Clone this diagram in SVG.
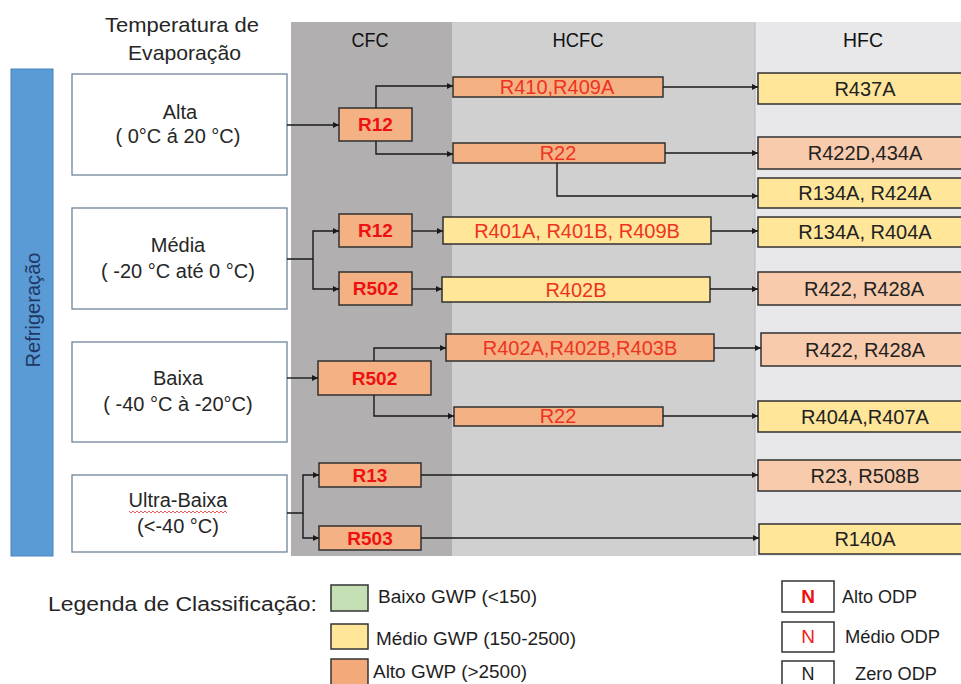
<svg xmlns="http://www.w3.org/2000/svg" width="961" height="684" viewBox="0 0 961 684">
<style>
text{font-family:"Liberation Sans",Arial,sans-serif;}
.col-cfc{fill:#b1afaf;}
.col-hcfc{fill:#d1d0d1;}
.col-hfc{fill:#e8e8ea;}
.hdr{font-size:21px;fill:#111111;text-anchor:middle;}
.cat{fill:#ffffff;stroke:#6f8499;stroke-width:1.3;}
.cat-t{font-size:20px;fill:#262626;text-anchor:middle;}
.cfc{fill:#f4b183;stroke:#303030;stroke-width:1.5;}
.cfc-t{font-size:19px;font-weight:bold;fill:#ee1111;text-anchor:middle;}
.ho{fill:#f4b183;stroke:#303030;stroke-width:1.5;}
.hy{fill:#ffe699;stroke:#303030;stroke-width:1.5;}
.hcfc-t{font-size:20px;fill:#ee3322;text-anchor:middle;}
.fo{fill:#f8cbad;stroke:#303030;stroke-width:1.5;}
.fy{fill:#ffe699;stroke:#303030;stroke-width:1.5;}
.hfc-t{font-size:20px;fill:#222222;text-anchor:middle;}
.conn path{fill:none;stroke:#1a1a1a;stroke-width:1.4;}
.leg{font-size:18px;fill:#1e1e1e;}
.sq{stroke:#333333;stroke-width:1.5;}
.odp{fill:#ffffff;stroke:#333333;stroke-width:1.5;}
</style>
<defs>
<marker id="arr" viewBox="0 0 10 10" refX="10" refY="5" markerWidth="6" markerHeight="6" orient="auto" markerUnits="userSpaceOnUse">
<path d="M0,0 L10,5 L0,10 z" fill="#1a1a1a"/>
</marker>
</defs>
<rect width="961" height="684" fill="#ffffff"/>

<!-- columns -->
<g id="columns">
<rect class="col-cfc" x="291" y="22" width="161" height="534"/>
<rect class="col-hcfc" x="452" y="22" width="303" height="534"/>
<rect class="col-hfc" x="755" y="22" width="206" height="534"/>
<line x1="755" y1="22" x2="755" y2="556" stroke="#b8b8bc" stroke-width="1"/>
<text class="hdr" x="370" y="47" textLength="37" lengthAdjust="spacingAndGlyphs">CFC</text>
<text class="hdr" x="578" y="47" textLength="51" lengthAdjust="spacingAndGlyphs">HCFC</text>
<text class="hdr" x="863" y="47" textLength="40" lengthAdjust="spacingAndGlyphs">HFC</text>
</g>

<g id="temp-header">
<text x="105" y="32" font-size="21" fill="#262626" textLength="154" lengthAdjust="spacingAndGlyphs">Temperatura de</text>
<text x="128" y="60" font-size="21" fill="#262626" textLength="113" lengthAdjust="spacingAndGlyphs">Evaporação</text>
</g>

<g id="refrigeracao">
<rect x="11" y="69" width="42" height="487" fill="#5b9bd5" stroke="#4a86c0" stroke-width="1"/>
<text transform="translate(40,310) rotate(-90)" font-size="20" fill="#1f3864" text-anchor="middle" textLength="115" lengthAdjust="spacingAndGlyphs">Refrigeração</text>
</g>

<!-- category nodes -->
<g id="alta">
<rect class="cat" x="72" y="74" width="215" height="101"/>
<text class="cat-t" x="180" y="119">Alta</text>
<text class="cat-t" x="178" y="143">( 0°C á 20 °C)</text>
</g>
<g id="media">
<rect class="cat" x="72" y="208" width="215" height="101"/>
<text class="cat-t" x="178" y="252">Média</text>
<text class="cat-t" x="178" y="278">( -20 °C até 0 °C)</text>
</g>
<g id="baixa">
<rect class="cat" x="72" y="342" width="215" height="100"/>
<text class="cat-t" x="178" y="385">Baixa</text>
<text class="cat-t" x="178" y="411">( -40 °C à -20°C)</text>
</g>
<g id="ultra-baixa">
<rect class="cat" x="72" y="475" width="215" height="77"/>
<text class="cat-t" x="178" y="507">Ultra-Baixa</text>
<path d="M129,511 l2,2 l2,-2 l2,2 l2,-2 l2,2 l2,-2 l2,2 l2,-2 l2,2 l2,-2 l2,2 l2,-2 l2,2 l2,-2 l2,2 l2,-2 l2,2 l2,-2 l2,2 l2,-2 l2,2 l2,-2 l2,2 l2,-2 l2,2 l2,-2 l2,2 l2,-2 l2,2 l2,-2 l2,2 l2,-2 l2,2 l2,-2 l2,2 l2,-2 l2,2 l2,-2 l2,2 l2,-2 l2,2 l2,-2 l2,2 l2,-2 l2,2 l2,-2 l2,2 l2,-2 l2,2" fill="none" stroke="#e03030" stroke-width="0.8"/>
<text class="cat-t" x="178" y="533">(&lt;-40 °C)</text>
</g>

<!-- CFC nodes -->
<g id="cfc-r12-alta"><rect class="cfc" x="339" y="108" width="73" height="33"/><text class="cfc-t" x="375.5" y="131">R12</text></g>
<g id="cfc-r12-media"><rect class="cfc" x="339" y="214" width="73" height="33"/><text class="cfc-t" x="375.5" y="237">R12</text></g>
<g id="cfc-r502-media"><rect class="cfc" x="339" y="272" width="73" height="33"/><text class="cfc-t" x="375.5" y="295">R502</text></g>
<g id="cfc-r502-baixa"><rect class="cfc" x="318" y="361" width="113" height="34"/><text class="cfc-t" x="374.5" y="385">R502</text></g>
<g id="cfc-r13"><rect class="cfc" x="319" y="463" width="102" height="24"/><text class="cfc-t" x="370" y="482">R13</text></g>
<g id="cfc-r503"><rect class="cfc" x="319" y="526" width="102" height="24"/><text class="cfc-t" x="370" y="545">R503</text></g>

<!-- HCFC nodes -->
<g id="hcfc-r410"><rect class="ho" x="453" y="77" width="210" height="20"/><text class="hcfc-t" x="557" y="94">R410,R409A</text></g>
<g id="hcfc-r22-alta"><rect class="ho" x="453" y="143" width="212" height="20"/><text class="hcfc-t" x="558" y="160">R22</text></g>
<g id="hcfc-r401"><rect class="hy" x="443" y="217" width="268" height="27"/><text class="hcfc-t" x="577" y="238">R401A, R401B, R409B</text></g>
<g id="hcfc-r402b"><rect class="hy" x="442" y="277" width="268" height="25"/><text class="hcfc-t" x="576" y="297">R402B</text></g>
<g id="hcfc-r402a"><rect class="ho" x="446" y="334" width="268" height="27"/><text class="hcfc-t" x="580" y="355">R402A,R402B,R403B</text></g>
<g id="hcfc-r22-baixa"><rect class="ho" x="454" y="407" width="209" height="19"/><text class="hcfc-t" x="558" y="423">R22</text></g>

<!-- HFC nodes -->
<g id="hfc-r437a"><rect class="fy" x="758" y="73" width="215" height="31"/><text class="hfc-t" x="865" y="96">R437A</text></g>
<g id="hfc-r422d"><rect class="fo" x="758" y="137" width="215" height="32"/><text class="hfc-t" x="865" y="160">R422D,434A</text></g>
<g id="hfc-r134a-r424a"><rect class="fy" x="758" y="178" width="215" height="30"/><text class="hfc-t" x="865" y="200">R134A, R424A</text></g>
<g id="hfc-r134a-r404a"><rect class="fy" x="758" y="217" width="215" height="30"/><text class="hfc-t" x="865" y="239">R134A, R404A</text></g>
<g id="hfc-r422-1"><rect class="fo" x="758" y="272" width="215" height="33"/><text class="hfc-t" x="864" y="296">R422, R428A</text></g>
<g id="hfc-r422-2"><rect class="fo" x="761" y="333" width="215" height="33"/><text class="hfc-t" x="865" y="357">R422, R428A</text></g>
<g id="hfc-r404a-r407a"><rect class="fy" x="758" y="401" width="215" height="31"/><text class="hfc-t" x="865" y="424">R404A,R407A</text></g>
<g id="hfc-r23"><rect class="fo" x="758" y="460" width="215" height="31"/><text class="hfc-t" x="865" y="483">R23, R508B</text></g>
<g id="hfc-r140a"><rect class="fy" x="759" y="524" width="215" height="30"/><text class="hfc-t" x="865" y="546">R140A</text></g>

<!-- connectors -->
<g class="conn" id="connectors">
<path d="M287,125 H339" marker-end="url(#arr)"/>
<path d="M376,108 V86 H453" marker-end="url(#arr)"/>
<path d="M376,141 V154 H453" marker-end="url(#arr)"/>
<path d="M663,87 H758" marker-end="url(#arr)"/>
<path d="M665,153 H758" marker-end="url(#arr)"/>
<path d="M557,163 V196 H758" marker-end="url(#arr)"/>
<path d="M287,259 H313 V231 H339" marker-end="url(#arr)"/>
<path d="M313,259 V289 H339" marker-end="url(#arr)"/>
<path d="M412,231 H443" marker-end="url(#arr)"/>
<path d="M412,289 H442" marker-end="url(#arr)"/>
<path d="M711,231 H758" marker-end="url(#arr)"/>
<path d="M710,289 H758" marker-end="url(#arr)"/>
<path d="M287,378 H318" marker-end="url(#arr)"/>
<path d="M374,361 V348 H446" marker-end="url(#arr)"/>
<path d="M374,395 V416 H454" marker-end="url(#arr)"/>
<path d="M714,348 H761" marker-end="url(#arr)"/>
<path d="M663,416 H758" marker-end="url(#arr)"/>
<path d="M287,513 H303 V475 H319" marker-end="url(#arr)"/>
<path d="M303,513 V538 H319" marker-end="url(#arr)"/>
<path d="M421,475 H758" marker-end="url(#arr)"/>
<path d="M421,538 H759" marker-end="url(#arr)"/>
</g>

<!-- legend -->
<g id="legend-gwp">
<text x="48" y="611" font-size="20" fill="#262626" textLength="269" lengthAdjust="spacingAndGlyphs">Legenda de Classificação:</text>
<rect class="sq" x="331" y="585" width="37" height="26" fill="#c5e0b4"/>
<text class="leg" x="378" y="603" textLength="159" lengthAdjust="spacingAndGlyphs">Baixo GWP (&lt;150)</text>
<rect class="sq" x="331" y="624" width="37" height="25" fill="#ffe699"/>
<text class="leg" x="376" y="645" textLength="200" lengthAdjust="spacingAndGlyphs">Médio GWP (150-2500)</text>
<rect class="sq" x="331" y="659" width="37" height="27" fill="#f4a97a"/>
<text class="leg" x="373" y="678" textLength="154" lengthAdjust="spacingAndGlyphs">Alto GWP (&gt;2500)</text>
</g>
<g id="legend-odp">
<rect class="odp" x="782" y="581" width="52" height="31"/>
<text x="808" y="603" font-size="19" font-weight="bold" fill="#ee1111" text-anchor="middle">N</text>
<text class="leg" x="842" y="603" textLength="75" lengthAdjust="spacingAndGlyphs">Alto ODP</text>
<rect class="odp" x="782" y="622" width="52" height="30"/>
<text x="808" y="643" font-size="19" fill="#ee2222" text-anchor="middle">N</text>
<text class="leg" x="845" y="643" textLength="95" lengthAdjust="spacingAndGlyphs">Médio ODP</text>
<rect class="odp" x="782" y="661" width="52" height="30"/>
<text x="808" y="680" font-size="18" fill="#222222" text-anchor="middle">N</text>
<text class="leg" x="855" y="680" textLength="82" lengthAdjust="spacingAndGlyphs">Zero ODP</text>
</g>
</svg>
